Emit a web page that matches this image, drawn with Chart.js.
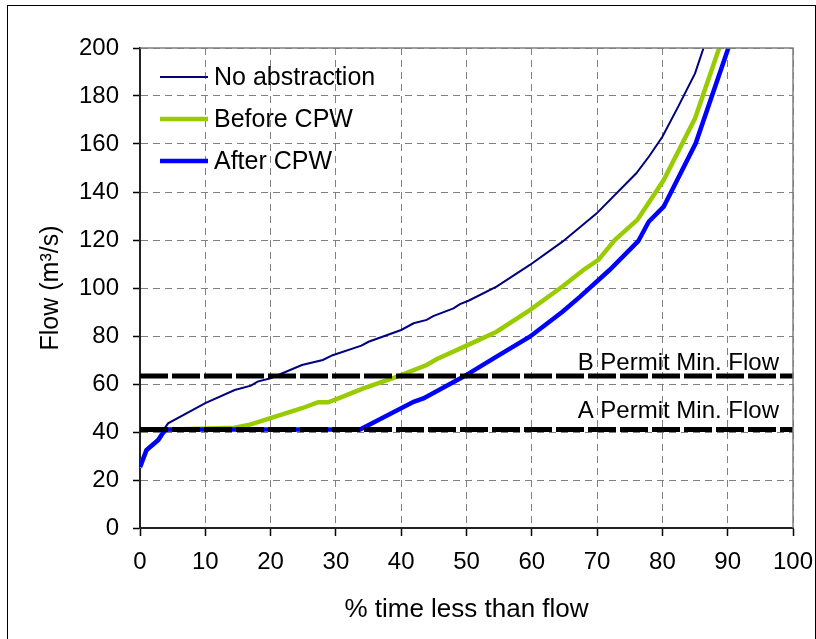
<!DOCTYPE html>
<html>
<head>
<meta charset="utf-8">
<script src="https://cdn.jsdelivr.net/npm/chart.js@4"></script>
<style>
  body { margin: 0; background: #fff; }
  canvas { display: block; }
</style>
</head>
<body>
<canvas id="chart-flow" width="816" height="639"></canvas>
<script>
// flow duration curves
const noAbsPct = [0, 1, 2.8, 3.5, 4.3, 10, 14.5, 17, 18, 20, 24.8, 28, 29.5, 33.9, 35, 40, 41.9, 43.9, 44.9, 48, 49, 50.3, 54.6, 59.7, 64.7, 69.9, 76, 78, 80, 82.5, 85, 86.3];
const noAbsFlow = [25, 32.5, 36.7, 40.5, 43.6, 52, 57.5, 59.3, 61, 62.4, 67.9, 70, 72, 76, 77.6, 82.5, 85.3, 86.7, 88.3, 91.5, 93.3, 94.7, 100.6, 109.6, 119.3, 131, 147.8, 155, 163, 176, 189.4, 200];

const beforePct = [0, 1, 2.8, 3.5, 4, 14.5, 16.6, 24.8, 27.3, 28.8, 30, 34.2, 39.3, 43.9, 45.4, 50, 54.6, 59.7, 64.7, 67.9, 70.2, 72.7, 76.2, 80.2, 85, 88.7];
const beforeFlow = [25, 32.5, 36.7, 39.6, 41, 41.8, 42.9, 49.9, 52.4, 52.4, 53.6, 58.2, 63, 67.9, 70.3, 76, 81.8, 90.8, 100.6, 107.5, 111.7, 120, 128.5, 145, 170.7, 200];

const afterPct = [0, 1, 2.8, 3.5, 4, 33.7, 41.9, 43.4, 49.5, 54.6, 59.7, 64.7, 67.4, 71.9, 76.3, 77.9, 80.2, 85.1, 90.1];
const afterFlow = [25.4, 32.5, 36.7, 39.6, 41, 41, 52.6, 54, 63, 71.4, 79.7, 90.1, 96.4, 107.5, 119.5, 127.6, 133.9, 160.3, 200];

const permitNames = ["A Permit Min. Flow", "B Permit Min. Flow"];
const permitFlows = [41, 63.3];

const seriesNames = ["No abstraction", "Before CPW", "After CPW"];

const xTitle = "% time less than flow";
const yTitle = "Flow (m³/s)";

const fontFam = "'Liberation Sans', Arial, sans-serif";

function toPoints(xs, ys) {
    return xs.map((x, i) => ({ x: x, y: ys[i] }));
}

// page frame + white background
const framePlugin = {
    id: 'frame',
    beforeDraw(chart) {
        const c = chart.ctx;
        c.save();
        c.fillStyle = '#fff';
        c.fillRect(0, 0, chart.width, chart.height);
        c.strokeStyle = '#000';
        c.lineWidth = 1;
        c.strokeRect(7.5, 5.5, 808, 640);
        c.restore();
    },
    afterDraw(chart) {
        const a = chart.chartArea;
        const c = chart.ctx;
        c.save();
        c.strokeStyle = '#808080';
        c.lineWidth = 1.5;
        c.beginPath();
        c.moveTo(a.left, a.top);
        c.lineTo(a.right, a.top);
        c.lineTo(a.right, a.bottom);
        c.stroke();
        c.restore();
    }
};

// legend sits inside the plot, top left, without a box
const innerLegend = {
    id: 'innerLegend',
    afterDraw(chart) {
        const a = chart.chartArea;
        const c = chart.ctx;
        c.save();
        c.font = '25px ' + fontFam;
        c.textBaseline = 'middle';
        c.fillStyle = '#000';
        for (let i = 0; i < seriesNames.length; i++) {
            const ds = chart.data.datasets[i];
            const y = a.top + 29 + i * 42;
            c.strokeStyle = ds.borderColor;
            c.lineWidth = ds.borderWidth;
            c.beginPath();
            c.moveTo(a.left + 20, y);
            c.lineTo(a.left + 68, y);
            c.stroke();
            c.fillText(ds.label, a.left + 74, y + 1);
        }
        c.restore();
    }
};

// labels over the permit lines
const permitLabels = {
    id: 'permitLabels',
    afterDatasetsDraw(chart) {
        const xs = chart.scales.x, ys = chart.scales.y;
        const c = chart.ctx;
        const lift = [12, 6];
        c.save();
        c.font = '24px ' + fontFam;
        c.textAlign = 'right';
        c.textBaseline = 'alphabetic';
        c.fillStyle = '#000';
        permitNames.forEach((name, i) => {
            c.fillText(name, xs.getPixelForValue(100) - 14, ys.getPixelForValue(permitFlows[i]) - lift[i]);
        });
        c.restore();
    }
};

const datasets = [
    {
        label: seriesNames[0],
        data: toPoints(noAbsPct, noAbsFlow),
        borderColor: '#000080',
        borderWidth: 2,
        order: 4
    },
    {
        label: seriesNames[1],
        data: toPoints(beforePct, beforeFlow),
        borderColor: '#99cc00',
        borderWidth: 4.5,
        order: 3
    },
    {
        label: seriesNames[2],
        data: toPoints(afterPct, afterFlow),
        borderColor: '#0000ff',
        borderWidth: 4.5,
        order: 2
    }
];

permitFlows.forEach((f, i) => {
    datasets.push({
        label: permitNames[i],
        data: [{ x: 0, y: f }, { x: 100, y: f }],
        borderColor: '#000',
        borderWidth: 5,
        borderDash: [28, 4],
        order: 0
    });
});

datasets.forEach(d => {
    d.pointRadius = 0;
    d.fill = false;
    d.tension = 0;
    d.borderCapStyle = 'butt';
});

let ctx = document.getElementById('chart-flow').getContext('2d');

new Chart(ctx, {
    type: 'line',
    data: { datasets: datasets },
    plugins: [framePlugin, innerLegend, permitLabels],
    options: {
        responsive: false,
        animation: false,
        layout: {
            padding: { top: 48, right: 23, bottom: 0, left: 0 }
        },
        plugins: {
            legend: { display: false },
            tooltip: { enabled: false }
        },
        scales: {
            x: {
                type: 'linear',
                min: 0,
                max: 100,
                afterFit(scale) {
                    scale.height = 111;
                    scale.paddingRight = 0;
                    scale.paddingLeft = 0;
                },
                ticks: {
                    stepSize: 10,
                    color: '#000',
                    padding: 12,
                    maxRotation: 0,
                    font: { size: 24, family: fontFam }
                },
                grid: {
                    color: '#808080',
                    lineWidth: 1,
                    tickLength: 8,
                    tickColor: '#000',
                    tickWidth: 1.5
                },
                border: { color: '#222', width: 2, dash: [7, 5] },
                title: {
                    display: true,
                    text: xTitle,
                    color: '#000',
                    padding: { top: 0, bottom: 14 },
                    font: { size: 26, family: fontFam }
                }
            },
            y: {
                min: 0,
                max: 200,
                afterFit(scale) { scale.width = 140; },
                ticks: {
                    stepSize: 20,
                    color: '#000',
                    padding: 14,
                    font: { size: 24, family: fontFam }
                },
                grid: {
                    color: '#808080',
                    lineWidth: 1,
                    tickLength: 7,
                    tickColor: '#000',
                    tickWidth: 1.5
                },
                border: { color: '#222', width: 2, dash: [7, 5] },
                title: {
                    display: true,
                    text: yTitle,
                    color: '#000',
                    padding: { top: 36, bottom: 0 },
                    font: { size: 25, family: fontFam }
                }
            }
        }
    }
});
</script>
</body>
</html>
